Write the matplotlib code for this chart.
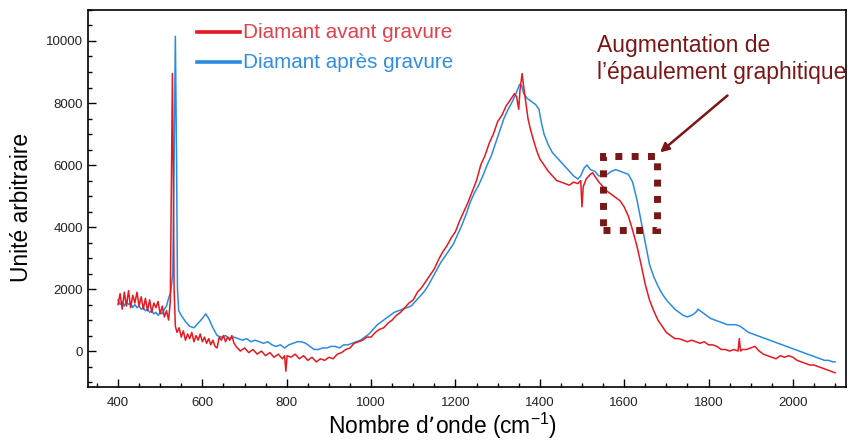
import matplotlib
matplotlib.use("Agg")
import matplotlib.pyplot as plt
from matplotlib import patches
from matplotlib.ticker import MultipleLocator

plt.rcParams['font.family'] = ['Liberation Sans', 'DejaVu Sans']
plt.rcParams['mathtext.default'] = 'regular'

# Raman spectrum before etching
wn_avant = [400, 405, 410, 415, 420, 425, 430, 435, 440, 445, 450, 455, 460, 465, 470, 475,
            480, 485, 490, 495, 500, 505, 510, 515, 520, 524, 527, 529, 531, 533, 536, 540,
            545, 550, 555, 560, 565, 570, 575, 580, 585, 590, 595, 600, 605, 610, 615, 620,
            625, 630, 635, 640, 645, 650, 655, 660, 665, 670, 675, 680, 690, 700, 710, 720,
            730, 740, 750, 760, 770, 780, 790, 795, 798, 801, 810, 820, 830, 840, 850, 860,
            870, 880, 890, 900, 910, 920, 930, 940, 950, 960, 970, 980, 990, 1000, 1010, 1020,
            1030, 1040, 1050, 1060, 1070, 1080, 1090, 1100, 1110, 1120, 1130, 1140, 1150, 1160,
            1170, 1180, 1190, 1200, 1210, 1220, 1230, 1240, 1250, 1260, 1270, 1280, 1290, 1300,
            1310, 1320, 1330, 1340, 1345, 1350, 1353, 1358, 1362, 1367, 1372, 1377, 1385, 1393,
            1400, 1410, 1420, 1430, 1440, 1450, 1460, 1470, 1480, 1490, 1497, 1500, 1503, 1510,
            1520, 1525, 1530, 1540, 1550, 1560, 1570, 1580, 1590, 1600, 1610, 1620, 1630, 1640,
            1650, 1660, 1670, 1680, 1690, 1700, 1710, 1720, 1730, 1740, 1750, 1760, 1770, 1780,
            1790, 1800, 1810, 1820, 1830, 1840, 1850, 1860, 1870, 1873, 1876, 1880, 1890, 1900,
            1910, 1920, 1930, 1940, 1950, 1960, 1970, 1980, 1990, 2000, 2010, 2020, 2030, 2040,
            2050, 2060, 2070, 2080, 2090, 2100]
int_avant = [1500, 1850, 1350, 1900, 1450, 1950, 1400, 1800, 1550, 1900, 1450, 1750, 1350, 1700, 1300, 1650,
             1250, 1550, 1400, 1600, 1200, 1450, 1100, 1300, 1000, 1600, 6000, 8950, 6000, 2000, 800, 600,
             750, 450, 650, 350, 550, 400, 600, 300, 500, 350, 550, 300, 450, 250, 400, 200,
             350, 150, 100, 450, 350, 500, 300, 450, 350, 500, 250, 150, 0, 100, -50, 50,
             -100, 0, -150, -50, -200, -100, -250, -150, -650, -150, -200, -100, -250, -150, -300, -200,
             -350, -250, -300, -200, -250, -100, -50, 50, 100, 250, 300, 350, 450, 450, 600, 700,
             750, 900, 1000, 1150, 1250, 1400, 1550, 1650, 1900, 2050, 2250, 2450, 2650, 2950,
             3200, 3400, 3650, 3850, 4200, 4500, 4800, 5150, 5500, 6000, 6300, 6700, 7000, 7400,
             7600, 7900, 8100, 8300, 8200, 7800, 8400, 8950, 8500, 8000, 7500, 7200, 6800, 6450,
             6200, 6000, 5800, 5650, 5500, 5450, 5400, 5350, 5450, 5400, 5500, 4650, 5300, 5550,
             5700, 5750, 5650, 5450, 5300, 5150, 5050, 4950, 4850, 4650, 4350, 3900, 3400, 2800,
             2150, 1650, 1300, 1000, 800, 600, 500, 400, 400, 350, 300, 350, 300, 250,
             300, 200, 200, 150, 50, 50, 0, 50, 0, 400, 0, 50, 50, 100,
             150, 0, -100, -150, -200, -250, -150, -200, -150, -200, -300, -350, -400, -450,
             -450, -500, -550, -600, -650, -700]

# Raman spectrum after etching
wn_apres = [400, 405, 410, 415, 420, 425, 430, 435, 440, 445, 450, 455, 460, 465, 470, 475,
            480, 485, 490, 495, 500, 505, 510, 515, 520, 525, 530, 533, 536, 539, 541, 544,
            550, 560, 570, 580, 590, 600, 608, 615, 625, 635, 645, 655, 665, 675, 685, 695,
            705, 715, 725, 735, 745, 755, 765, 775, 785, 795, 805, 815, 825, 835, 845, 855,
            865, 875, 885, 895, 905, 915, 925, 935, 945, 955, 965, 975, 985, 995, 1005, 1015,
            1025, 1035, 1045, 1055, 1065, 1075, 1085, 1095, 1105, 1115, 1125, 1135, 1145, 1155,
            1165, 1175, 1185, 1195, 1205, 1215, 1225, 1235, 1245, 1255, 1265, 1275, 1285, 1295,
            1305, 1315, 1325, 1335, 1345, 1352, 1357, 1362, 1370, 1380, 1390, 1398, 1404, 1410,
            1420, 1430, 1440, 1450, 1460, 1470, 1480, 1490, 1497, 1505, 1512, 1520, 1530, 1540,
            1550, 1560, 1570, 1580, 1590, 1600, 1610, 1620, 1630, 1640, 1650, 1660, 1670, 1680,
            1690, 1700, 1710, 1720, 1730, 1740, 1750, 1760, 1770, 1775, 1785, 1795, 1805, 1815,
            1825, 1835, 1845, 1855, 1865, 1875, 1885, 1895, 1905, 1915, 1925, 1935, 1945, 1955,
            1965, 1975, 1985, 1995, 2005, 2015, 2025, 2035, 2045, 2055, 2065, 2075, 2085, 2095,
            2100]
int_apres = [1650, 1500, 1600, 1450, 1600, 1500, 1550, 1400, 1500, 1400, 1450, 1350, 1400, 1300, 1350, 1250,
             1300, 1200, 1250, 1150, 1250, 1200, 1350, 1450, 1700, 1900, 2500, 6000, 10150, 6000, 2000, 1300,
             1150, 950, 800, 750, 900, 1050, 1200, 1050, 750, 500, 450, 500, 400, 450, 400, 350,
             400, 300, 350, 300, 250, 300, 200, 150, 200, 100, 200, 250, 300, 300, 250, 150,
             50, 50, 100, 100, 150, 150, 100, 200, 200, 250, 300, 350, 450, 550, 700, 850,
             950, 1050, 1150, 1250, 1300, 1350, 1400, 1450, 1600, 1750, 1900, 2100, 2350, 2600,
             2850, 3050, 3250, 3450, 3750, 4050, 4400, 4800, 5100, 5350, 5650, 6000, 6300, 6700,
             7100, 7500, 7800, 8050, 8350, 8600, 8550, 8300, 8150, 8050, 7950, 7800, 7350, 7000,
             6650, 6400, 6250, 6100, 5950, 5800, 5650, 5550, 5650, 5900, 6000, 5850, 5800, 5650,
             5650, 5700, 5800, 5850, 5800, 5750, 5700, 5450, 4900, 4200, 3500, 2800, 2400, 2100,
             1850, 1650, 1500, 1350, 1250, 1150, 1100, 1150, 1250, 1350, 1250, 1150, 1050, 1000,
             950, 900, 850, 850, 850, 800, 700, 600, 550, 500, 450, 400, 350, 300,
             250, 200, 150, 100, 50, 0, -50, -100, -150, -200, -250, -300, -300, -350,
             -350]

legend_labels = ["Diamant avant gravure", "Diamant après gravure"]
note_text = "Augmentation de\nl\u2019épaulement graphitique"

red = "#e5191f"
blue = "#2b8be0"
dark = "#7a1616"

fig = plt.figure(figsize=(8.49, 4.42), dpi=100)
ax = fig.add_axes([0.1037, 0.1244, 0.8928, 0.8530])

ax.plot(wn_avant, int_avant, color=red, lw=1.1, zorder=3)
ax.plot(wn_apres, int_apres, color=blue, lw=1.1, zorder=2)

ax.set_xlim(329, 2126)
ax.set_ylim(-1160, 11000)
ax.xaxis.set_major_locator(MultipleLocator(200))
ax.xaxis.set_minor_locator(MultipleLocator(50))
ax.yaxis.set_major_locator(MultipleLocator(2000))
ax.yaxis.set_minor_locator(MultipleLocator(500))
ax.tick_params(which='both', direction='in', labelsize=9.5, width=1, labelcolor='#222222')
ax.tick_params(which='major', length=6)
ax.tick_params(axis='x', which='major', pad=7)
ax.tick_params(which='minor', length=3)
for s in ax.spines.values():
    s.set_linewidth(1.2)

ax.set_xlabel("Nombre d\u2019onde (cm$^{-1}$)", fontsize=16.4)
ax.set_ylabel("Unité arbitraire", fontsize=16.4)
ax.xaxis.set_label_coords(0.468, -0.062)
ax.yaxis.set_label_coords(-0.072, 0.4775)

# hand-made legend
for lbl, col, yy, tc in zip(legend_labels, [red, blue], [0.9416, 0.862], ["#e2414c", "#2f8ee3"]):
    ax.plot([0.144, 0.2005], [yy, yy], transform=ax.transAxes, color=col, lw=2.6)
    ax.text(0.2045, yy, lbl, transform=ax.transAxes, color=tc, fontsize=14.9, va='center')

# dotted box around the graphitic shoulder
box = patches.Rectangle((1549, 3900), 128, 2390, fill=False, edgecolor=dark, lw=5,
                        linestyle=(0, (1, 1.35)), zorder=4)
ax.add_patch(box)

fig.text(0.703, 0.922, note_text, color=dark, fontsize=16.5, va='top', ha='left', linespacing=1.22)
ax.annotate("", xy=(1680, 6350), xytext=(1850, 8300),
            arrowprops=dict(arrowstyle='-|>', color=dark, lw=1.8, mutation_scale=13))

fig.savefig("out.png", dpi=100)
